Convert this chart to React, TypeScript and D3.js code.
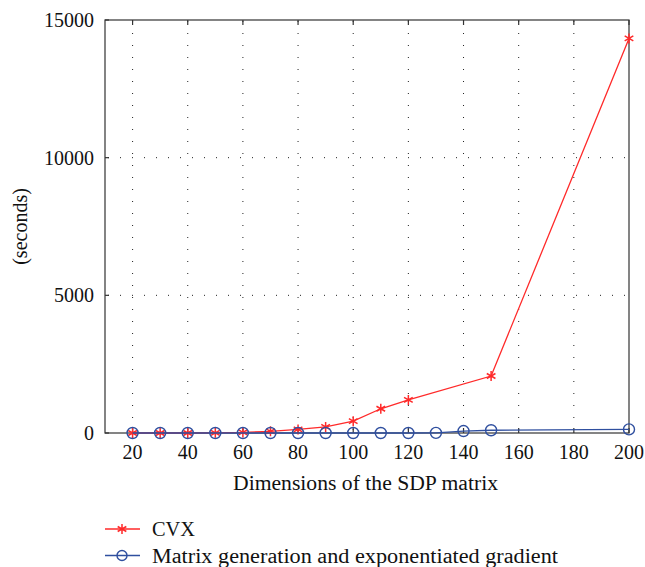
import React, { useEffect, useRef } from 'react';
import * as d3 from 'd3';

const dims = [20, 30, 40, 50, 60, 70, 80, 90, 100, 110, 120, 150, 200];
const cvxSeconds = [0, 0, 0, 5, 20, 60, 130, 220, 430, 880, 1200, 2070, 14330];

const mgegDims = [20, 30, 40, 50, 60, 70, 80, 90, 100, 110, 120, 130, 140, 150, 200];
const mgegSeconds = [0, 0, 0, 0, 0, 0, 0, 0, 0, 0, 0, 5, 70, 100, 130];

const xTicks = [20, 40, 60, 80, 100, 120, 140, 160, 180, 200];
const yTicks = [0, 5000, 10000, 15000];

const legendItems = ['CVX', 'Matrix generation and exponentiated gradient'];
const legendWidths = [43, 406];

const RED = '#ff2a2a';
const BLUE = '#2f4f9f';

const App = () => {
    const ref = useRef(null);

    useEffect(() => {
        const svg = d3.select(ref.current);
        svg.selectAll('*').remove();

        const left = 105, right = 629, top = 20, bottom = 433;
        const font = '"Liberation Serif", "Times New Roman", serif';

        const x = d3.scaleLinear().domain([10, 200]).range([left, right]);
        const y = d3.scaleLinear().domain([0, 15000]).range([bottom, top]);

        // dotted grid
        const grid = svg.append('g')
            .attr('stroke', '#222')
            .attr('stroke-width', 1)
            .attr('stroke-dasharray', '1,11');
        xTicks.filter(t => t < 200).forEach(t => {
            grid.append('line')
                .attr('x1', x(t)).attr('x2', x(t))
                .attr('y1', bottom - 3).attr('y2', top);
        });
        yTicks.filter(t => t > 0 && t < 15000).forEach(t => {
            grid.append('line')
                .attr('x1', left + 3).attr('x2', right)
                .attr('y1', y(t)).attr('y2', y(t));
        });

        // frame and inward ticks
        svg.append('rect')
            .attr('x', left).attr('y', top)
            .attr('width', right - left).attr('height', bottom - top)
            .attr('fill', 'none').attr('stroke', '#333').attr('stroke-width', 1.2);

        const ticks = svg.append('g').attr('stroke', '#333').attr('stroke-width', 1.2);
        xTicks.forEach(t => {
            ticks.append('line').attr('x1', x(t)).attr('x2', x(t)).attr('y1', bottom).attr('y2', bottom - 5);
            ticks.append('line').attr('x1', x(t)).attr('x2', x(t)).attr('y1', top).attr('y2', top + 5);
        });
        yTicks.forEach(t => {
            ticks.append('line').attr('x1', left).attr('x2', left + 4).attr('y1', y(t)).attr('y2', y(t));
        });

        // tick labels
        svg.append('g').selectAll('text')
            .data(xTicks).enter().append('text')
            .attr('x', d => x(d)).attr('y', bottom + 26)
            .attr('text-anchor', 'middle')
            .attr('font-family', font).attr('font-size', 20).attr('fill', '#111')
            .text(d => d);

        svg.append('g').selectAll('text')
            .data(yTicks).enter().append('text')
            .attr('x', left - 11).attr('y', d => y(d) + 7)
            .attr('text-anchor', 'end')
            .attr('font-family', font).attr('font-size', 20).attr('fill', '#111')
            .text(d => d);

        // axis titles (the original face is a little wider than Liberation Serif)
        svg.append('text')
            .attr('x', 233).attr('y', 490)
            .attr('textLength', 265).attr('lengthAdjust', 'spacingAndGlyphs')
            .attr('font-family', font).attr('font-size', 20).attr('fill', '#111')
            .text('Dimensions of the SDP matrix');

        svg.append('text')
            .attr('transform', `translate(27, ${(top + bottom) / 2}) rotate(-90)`)
            .attr('text-anchor', 'middle')
            .attr('font-family', font).attr('font-size', 20).attr('fill', '#111')
            .text('(seconds)');

        const line = d3.line<[number, number]>().x(d => x(d[0])).y(d => y(d[1]));
        const star = d3.symbol().type(d3.symbolAsterisk).size(70);

        // CVX
        const cvx = dims.map((d, i) => [d, cvxSeconds[i]] as [number, number]);
        svg.append('path').datum(cvx)
            .attr('d', line).attr('fill', 'none').attr('stroke', RED).attr('stroke-width', 1.3);
        svg.append('g').selectAll('path')
            .data(cvx).enter().append('path')
            .attr('transform', d => `translate(${x(d[0])},${y(d[1])})`)
            .attr('d', star).attr('fill', 'none').attr('stroke', RED).attr('stroke-width', 1.5);

        // MGEG
        const mg = mgegDims.map((d, i) => [d, mgegSeconds[i]] as [number, number]);
        svg.append('path').datum(mg)
            .attr('d', line).attr('fill', 'none').attr('stroke', BLUE).attr('stroke-width', 1.3);
        svg.append('g').selectAll('circle')
            .data(mg).enter().append('circle')
            .attr('cx', d => x(d[0])).attr('cy', d => y(d[1])).attr('r', 5.5)
            .attr('fill', 'none').attr('stroke', BLUE).attr('stroke-width', 1.4);

        // legend
        const legend = svg.append('g');
        legendItems.forEach((label, i) => {
            const ly = 529 + i * 26.5;
            const color = i === 0 ? RED : BLUE;
            legend.append('line')
                .attr('x1', 105).attr('x2', 140).attr('y1', ly).attr('y2', ly)
                .attr('stroke', color).attr('stroke-width', 1.3);
            if (i === 0) {
                legend.append('path')
                    .attr('transform', `translate(122,${ly})`)
                    .attr('d', star).attr('fill', 'none').attr('stroke', color).attr('stroke-width', 1.5);
            } else {
                legend.append('circle')
                    .attr('cx', 122).attr('cy', ly).attr('r', 5)
                    .attr('fill', 'none').attr('stroke', color).attr('stroke-width', 1.4);
            }
            legend.append('text')
                .attr('x', 152).attr('y', ly + 7)
                .attr('textLength', legendWidths[i]).attr('lengthAdjust', 'spacingAndGlyphs')
                .attr('font-family', font).attr('font-size', 20).attr('fill', '#111')
                .text(label);
        });
    }, []);

    return (
        <svg ref={ref} width={645} height={567}
            style={{ position: 'absolute', left: 0, top: 0, background: '#fff' }}></svg>
    );
};

export default App;
